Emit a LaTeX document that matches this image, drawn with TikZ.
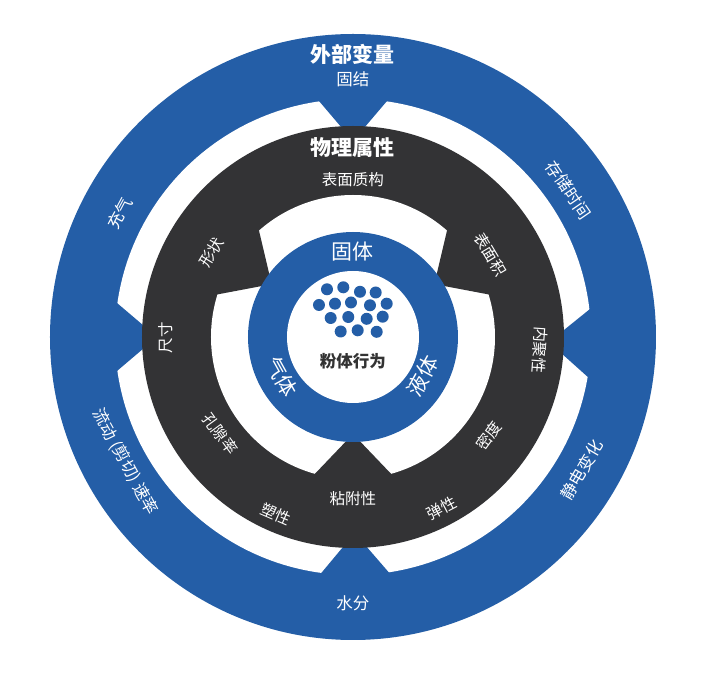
\documentclass[tikz,border=0pt]{standalone}
\usepackage{fontspec}
\setmainfont{Noto Sans CJK SC}
\definecolor{bluec}{RGB}{36,94,167}
\definecolor{darkc}{RGB}{51,51,53}
\definecolor{txtdark}{RGB}{51,51,51}
\tikzset{
  lab/.style={text=white, inner sep=0pt, font=\fontsize{15.5}{16}\selectfont},
  labo/.style={text=white, inner sep=0pt, font=\fontsize{16.5}{17}\selectfont},
  labb/.style={text=white, inner sep=0pt, font=\fontsize{21}{22}\selectfont\bfseries},
  labi/.style={text=white, inner sep=0pt, font=\fontsize{21}{22}\selectfont},
  pdot/.style={fill=bluec}
}
\begin{document}
\begin{tikzpicture}[x=1pt,y=1pt]
\useasboundingbox (-353,-340) rectangle (363,337);
\fill[white] (-353,-340) rectangle (363,337);
% outer blue ring
\fill[bluec] (0,0) circle (303);
\fill[white] (0,0) circle (238);
\foreach \a in {90,-1.5,180,270.5}
  \fill[bluec, rotate=\a] (196,0) -- (276,68) -- (276,-68) -- cycle;
% dark ring
\fill[darkc] (0,0) circle (211);
\fill[white] (0,0) circle (142);
\foreach \a in {33,147,270}
  \fill[darkc, rotate=\a] (97,0) -- (165,65) -- (165,-65) -- cycle;
% inner blue ring
\fill[bluec] (0,0) circle (105);
\fill[white] (0,0) circle (66);
% particles
\foreach \p in {(-26,47.7),(-9.7,49.7),(7,45.2),(22.7,44.5),
  (-34,32),(-18,33.3),(-2,34.5),(17,31.7),(33.7,33.3),
  (-22.3,19),(-4.7,20),(13.7,18.2),(29.7,20.3),
  (-12.3,5.5),(4.7,6.7),(23.7,5.2)}
  \fill[pdot] \p circle (6);
% center
\node[inner sep=0pt, text=txtdark, font=\fontsize{16.5}{17}\selectfont\bfseries] (center) at (0,-24) {粉体行为};
% inner ring
\node[labi] (solid) at (0,85) {固体};
\node[labi, rotate=-61] (gas) at (209:82) {气体};
\node[labi, rotate=61] (liquid) at (331:80) {液体};
% dark ring
\node[labb] (phys) at (0,189) {物理属性};
\node[lab] (texture) at (0,157) {表面质构};
\node[lab, rotate=59] (shape) at (149:165) {形状};
\node[lab, rotate=-59] (area) at (31:160) {表面积};
\node[lab, rotate=90] (size) at (180.3:187) {尺寸};
\node[lab, rotate=-94] (cohesion) at (-4:187.5) {内聚性};
\node[lab, rotate=-54] (porosity) at (216:164) {孔隙率};
\node[lab, rotate=54] (density) at (-36:168) {密度};
\node[lab, rotate=-23.5] (plastic) at (246.5:193) {塑性};
\node[lab] (adhesion) at (0,-162) {粘附性};
\node[lab, rotate=27.4] (elastic) at (-62.6:193) {弹性};
% outer ring
\node[labb] (ext) at (0,283) {外部变量};
\node[labo] (consol) at (0,258) {固结};
\node[labo] (water) at (0,-266) {水分};
\node[labo, rotate=62] (aer) at (152:264) {充气};
\node[labo, rotate=-55.7] (storage) at (34.3:261) {存储时间};
\node[labo, rotate=-61.3] (flow) at (208.7:260) {流动 (剪切) 速率};
\node[labo, rotate=59.8] (static) at (-30.2:264.5) {静电变化};
\end{tikzpicture}
\end{document}
